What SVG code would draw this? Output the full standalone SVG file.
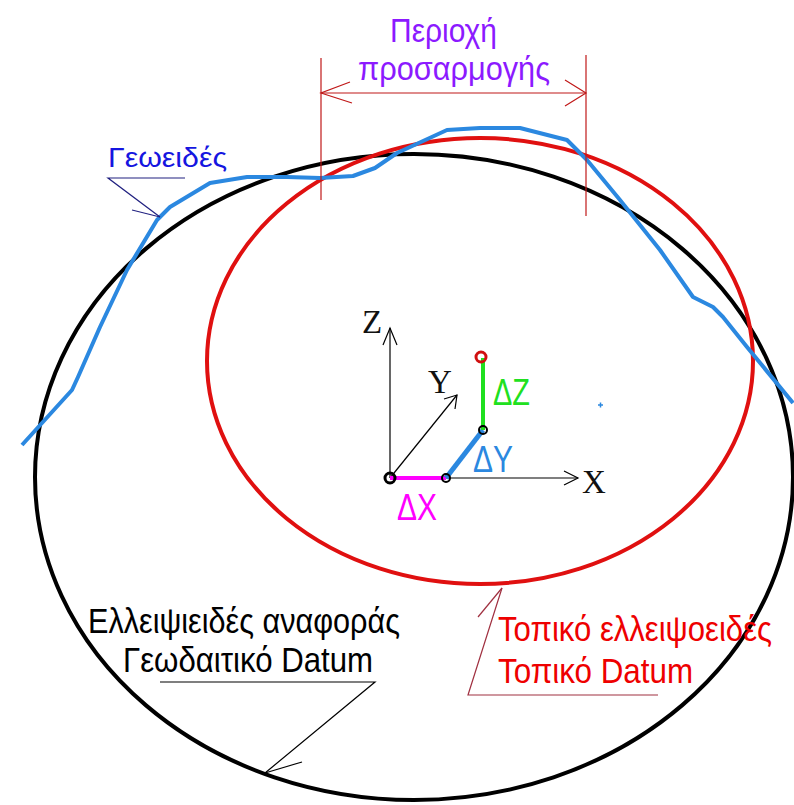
<svg xmlns="http://www.w3.org/2000/svg" width="794" height="805" viewBox="0 0 794 805">
<style>
.sans{font-family:"Liberation Sans",Arial,sans-serif}
.serif{font-family:"Liberation Serif","Times New Roman",serif}
.thin{fill:none;stroke-width:1.2}
.thick{fill:none;stroke-width:4}
</style>
<rect width="794" height="805" fill="#ffffff"/>
<g id="reference-ellipsoid">
<ellipse cx="414" cy="477" rx="379" ry="323" class="thick" stroke="#000"/>
</g>
<g id="local-ellipsoid">
<ellipse cx="480" cy="361" rx="273" ry="223" class="thick" stroke="#e01010"/>
</g>
<g id="geoid">
<polyline class="thick" stroke="#2b88e0" stroke-linejoin="round" points="22,445 72,390 78,377 100,327 127,270 157,220 170,207 210,183 247,177 287,177 320,178 353,176 375,168 397,153 447,130 480,128 520,128 567,140 587,160 620,200 660,250 693,297 713,307 723,317 747,347 793,403"/>
</g>
<g id="fit-region">
<g class="thin" stroke="#c01818">
<line x1="321" y1="58" x2="321" y2="200"/>
<line x1="586" y1="55" x2="586" y2="216"/>
<line x1="321" y1="93" x2="586" y2="93"/>
<polyline points="350,82 321,93 352,103"/>
<polyline points="565,80 586,93 565,106"/>
</g>
<text class="sans" fill="#8c1aff" font-size="29" transform="translate(390,42) scale(1,1.15)" textLength="107" lengthAdjust="spacingAndGlyphs">Περιοχή</text>
<text class="sans" fill="#8c1aff" font-size="29" transform="translate(358,80) scale(1,1.15)" textLength="192" lengthAdjust="spacingAndGlyphs">προσαρμογής</text>
</g>
<g id="geoid-label">
<text class="sans" fill="#1515e0" font-size="22" transform="translate(108,167) scale(1,1.25)" textLength="119" lengthAdjust="spacingAndGlyphs">Γεωειδές</text>
<g class="thin" stroke="#202080">
<polyline points="185,178 108,178 160,217"/>
<line x1="132" y1="210" x2="160" y2="217"/>
</g>
</g>
<g id="reference-label">
<text class="sans" fill="#000" font-size="27" transform="translate(88,633) scale(1,1.33)" textLength="312" lengthAdjust="spacingAndGlyphs">Ελλειψιειδές αναφοράς</text>
<text class="sans" fill="#000" font-size="27" transform="translate(123,672) scale(1,1.33)" textLength="250" lengthAdjust="spacingAndGlyphs">Γεωδαιτικό Datum</text>
<g class="thin" stroke="#000">
<polyline points="160,682 375,682 265,773"/>
<line x1="265" y1="773" x2="302" y2="762"/>
</g>
</g>
<g id="local-label">
<text class="sans" fill="#ee0000" font-size="27" transform="translate(498,641) scale(1,1.33)" textLength="274" lengthAdjust="spacingAndGlyphs">Τοπικό ελλειψοειδές</text>
<text class="sans" fill="#ee0000" font-size="27" transform="translate(498,683) scale(1,1.33)" textLength="195" lengthAdjust="spacingAndGlyphs">Τοπικό Datum</text>
<g class="thin" stroke="#a03040">
<polyline points="658,695 468,695 502,588"/>
<line x1="502" y1="588" x2="478" y2="617"/>
</g>
</g>
<g id="axes">
<g class="thin" stroke="#000">
<line x1="390" y1="478" x2="390" y2="328"/>
<polyline points="383,345 390,328 397,345"/>
<line x1="390" y1="478" x2="578" y2="478"/>
<polyline points="564,471 578,478 564,485"/>
<line x1="390" y1="478" x2="457" y2="395"/>
<polyline points="444,399 457,395 455,409"/>
</g>
<text class="serif" fill="#111" font-size="33" x="362" y="333">Z</text>
<text class="serif" fill="#111" font-size="33" x="428" y="393">Y</text>
<text class="serif" fill="#111" font-size="33" x="582" y="493">X</text>
</g>
<g id="shifts">
<line x1="390" y1="478" x2="446" y2="478" stroke="#ff00ff" stroke-width="4"/>
<line x1="446" y1="478" x2="483" y2="430" stroke="#2b88e0" stroke-width="5"/>
<line x1="483" y1="430" x2="483" y2="358" stroke="#20e020" stroke-width="4"/>
<circle cx="390" cy="478" r="5" fill="none" stroke="#000" stroke-width="3"/>
<circle cx="446" cy="478" r="4" fill="none" stroke="#000" stroke-width="2"/>
<circle cx="483" cy="430" r="4" fill="none" stroke="#000" stroke-width="2"/>
<circle cx="481" cy="357" r="5" fill="none" stroke="#d01010" stroke-width="3"/>
<text class="sans" fill="#ff00ff" font-size="30" transform="translate(397,520) scale(1,1.2)" textLength="40" lengthAdjust="spacingAndGlyphs">ΔX</text>
<text class="sans" fill="#2b88e0" font-size="30" transform="translate(473,472) scale(1,1.2)" textLength="40" lengthAdjust="spacingAndGlyphs">ΔY</text>
<text class="sans" fill="#20e020" font-size="30" transform="translate(493,405) scale(1,1.2)" textLength="37" lengthAdjust="spacingAndGlyphs">ΔZ</text>
<path d="M598,405 h5 M600.5,402.5 v5" stroke="#2b88e0" stroke-width="1.5"/>
</g>
</svg>
